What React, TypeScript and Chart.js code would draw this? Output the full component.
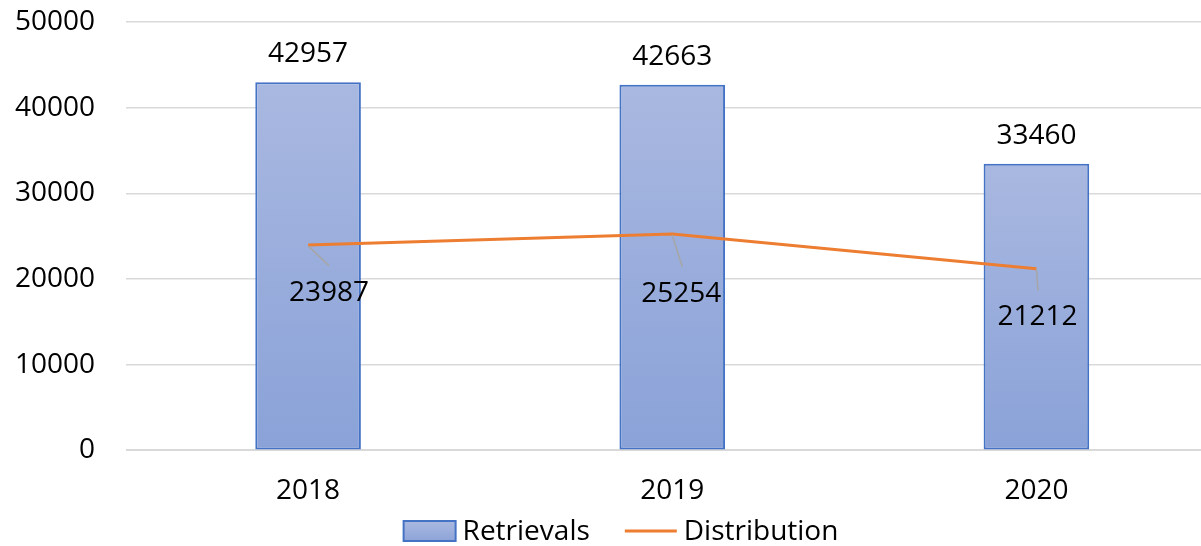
import React, { useEffect, useRef } from "react";
import { Chart, registerables } from "chart.js";

Chart.register(...registerables);

const categories = ["2018", "2019", "2020"];
const retrievals = [42957, 42663, 33460];
const distribution = [23987, 25254, 21212];
const yTicks = [0, 10000, 20000, 30000, 40000, 50000];
const seriesNames = ["Retrievals", "Distribution"];

const FONT_FAMILY = "'Open Sans', 'Noto Sans', sans-serif";
const FONT_SIZE = 28;

// label placement offsets (style only) for the Distribution data labels
const distLabelPlacement = [
  { tx: 21, ty: 56, lx: 21, ly: 21 },
  { tx: 9, ty: 68, lx: 10, ly: 33 },
  { tx: 1, ty: 56, lx: 1.5, ly: 22 },
];

const valueLabelPlugin = {
  id: "valueLabels",
  afterDatasetsDraw(chart: any) {
    const ctx = chart.ctx;
    ctx.save();
    ctx.font = `${FONT_SIZE}px ${FONT_FAMILY}`;
    ctx.fillStyle = "#000000";
    ctx.textAlign = "center";
    ctx.textBaseline = "alphabetic";
    const barMeta = chart.getDatasetMeta(0);
    barMeta.data.forEach((el: any, i: number) => {
      ctx.fillText(String(retrievals[i]), el.x, el.y - 20);
    });
    const lineMeta = chart.getDatasetMeta(1);
    lineMeta.data.forEach((pt: any, i: number) => {
      const p = distLabelPlacement[i];
      ctx.strokeStyle = "#a6a6a6";
      ctx.lineWidth = 1.5;
      ctx.beginPath();
      ctx.moveTo(pt.x, pt.y + 1);
      ctx.lineTo(pt.x + p.lx, pt.y + p.ly);
      ctx.stroke();
      ctx.fillStyle = "#000000";
      ctx.fillText(String(distribution[i]), pt.x + p.tx, pt.y + p.ty);
    });
    ctx.restore();
  },
};

const legendPlugin = {
  id: "excelLegend",
  afterDraw(chart: any, _args: any, opts: any) {
    const ctx = chart.ctx;
    const datasets = chart.data.datasets;
    ctx.save();
    ctx.font = `${FONT_SIZE}px ${FONT_FAMILY}`;
    const symW = opts.symbolWidth;
    const widths = datasets.map(
      (ds: any) => symW + opts.textGap + ctx.measureText(ds.label).width
    );
    const total =
      widths.reduce((a: number, b: number) => a + b, 0) +
      opts.itemGap * (datasets.length - 1);
    let x = opts.centerX - total / 2;
    const y = opts.y;
    datasets.forEach((ds: any, i: number) => {
      if (ds.type === "bar") {
        const g = ctx.createLinearGradient(0, y - 10, 0, y + 10);
        g.addColorStop(0, "#a9b8e0");
        g.addColorStop(1, "#8ea4d8");
        ctx.fillStyle = g;
        ctx.fillRect(x, y - 10, symW, 20);
        ctx.strokeStyle = ds.borderColor;
        ctx.lineWidth = 2;
        ctx.strokeRect(x, y - 10, symW, 20);
      } else {
        ctx.strokeStyle = ds.borderColor;
        ctx.lineWidth = 3;
        ctx.beginPath();
        ctx.moveTo(x, y);
        ctx.lineTo(x + symW, y);
        ctx.stroke();
      }
      ctx.fillStyle = "#000000";
      ctx.textAlign = "left";
      ctx.textBaseline = "middle";
      ctx.fillText(ds.label, x + symW + opts.textGap, y + 1);
      x += widths[i] + opts.itemGap;
    });
    ctx.restore();
  },
};

export default function App() {
  const canvasRef = useRef<HTMLCanvasElement | null>(null);

  useEffect(() => {
    if (!canvasRef.current) return;
    const chart = new Chart(canvasRef.current, {
      type: "bar",
      data: {
        labels: categories,
        datasets: [
          {
            type: "bar",
            label: seriesNames[0],
            data: retrievals,
            order: 2,
            borderColor: "#4472c4",
            borderWidth: 2,
            borderSkipped: false,
            backgroundColor: (c: any) => {
              const chart = c.chart;
              const { ctx, chartArea, scales } = chart;
              if (!chartArea || !scales || !scales.y || c.type !== "data") return "#9cb0de";
              const top = scales.y.getPixelForValue(retrievals[c.dataIndex]);
              const bot = scales.y.getPixelForValue(0);
              const g = ctx.createLinearGradient(0, top, 0, bot);
              g.addColorStop(0, "#a9b8e0");
              g.addColorStop(1, "#8aa2d8");
              return g;
            },
            categoryPercentage: 1,
            barPercentage: 0.29,
          } as any,
          {
            type: "line",
            label: seriesNames[1],
            data: distribution,
            order: 1,
            borderColor: "#ed7d31",
            backgroundColor: "#ed7d31",
            borderWidth: 3,
            pointRadius: 0,
            pointHoverRadius: 0,
            tension: 0,
            fill: false,
          } as any,
        ],
      },
      options: {
        animation: false,
        responsive: true,
        maintainAspectRatio: false,
        layout: { padding: { left: 15, right: 11.5, top: 22, bottom: 14 } },
        plugins: {
          legend: { display: false },
          tooltip: { enabled: false },
          excelLegend: {
            symbolWidth: 52,
            textGap: 7,
            itemGap: 35,
            centerX: 621,
            y: 531,
          },
        } as any,
        scales: {
          x: {
            grid: { display: false, drawTicks: false },
            border: { display: false },
            ticks: {
              color: "#000000",
              font: { family: FONT_FAMILY, size: FONT_SIZE },
              padding: 24,
            },
          },
          y: {
            min: 0,
            max: 50000,
            afterBuildTicks: (axis: any) => {
              axis.ticks = yTicks.map((v) => ({ value: v }));
            },
            afterFit: (axis: any) => {
              axis.width = 111;
              axis.paddingTop = 0;
              axis.paddingBottom = 0;
            },
            grid: {
              color: "#d9d9d9",
              lineWidth: (c: any) => (c.tick && c.tick.value === 0 ? 2 : 1.5),
              drawTicks: false,
            },
            border: { display: false },
            ticks: {
              color: "#000000",
              font: { family: FONT_FAMILY, size: FONT_SIZE },
              padding: 31,
              callback: (v: any) => String(v),
            },
          },
        },
      },
      plugins: [valueLabelPlugin, legendPlugin],
    });
    return () => chart.destroy();
  }, []);

  return (
    <div
      style={{
        position: "absolute",
        left: 0,
        top: 0,
        width: 1201,
        height: 546,
        overflow: "hidden",
        background: "#ffffff",
      }}
    >
      <div style={{ width: 1230, height: 546, position: "relative" }}>
        <canvas ref={canvasRef} />
      </div>
    </div>
  );
}
